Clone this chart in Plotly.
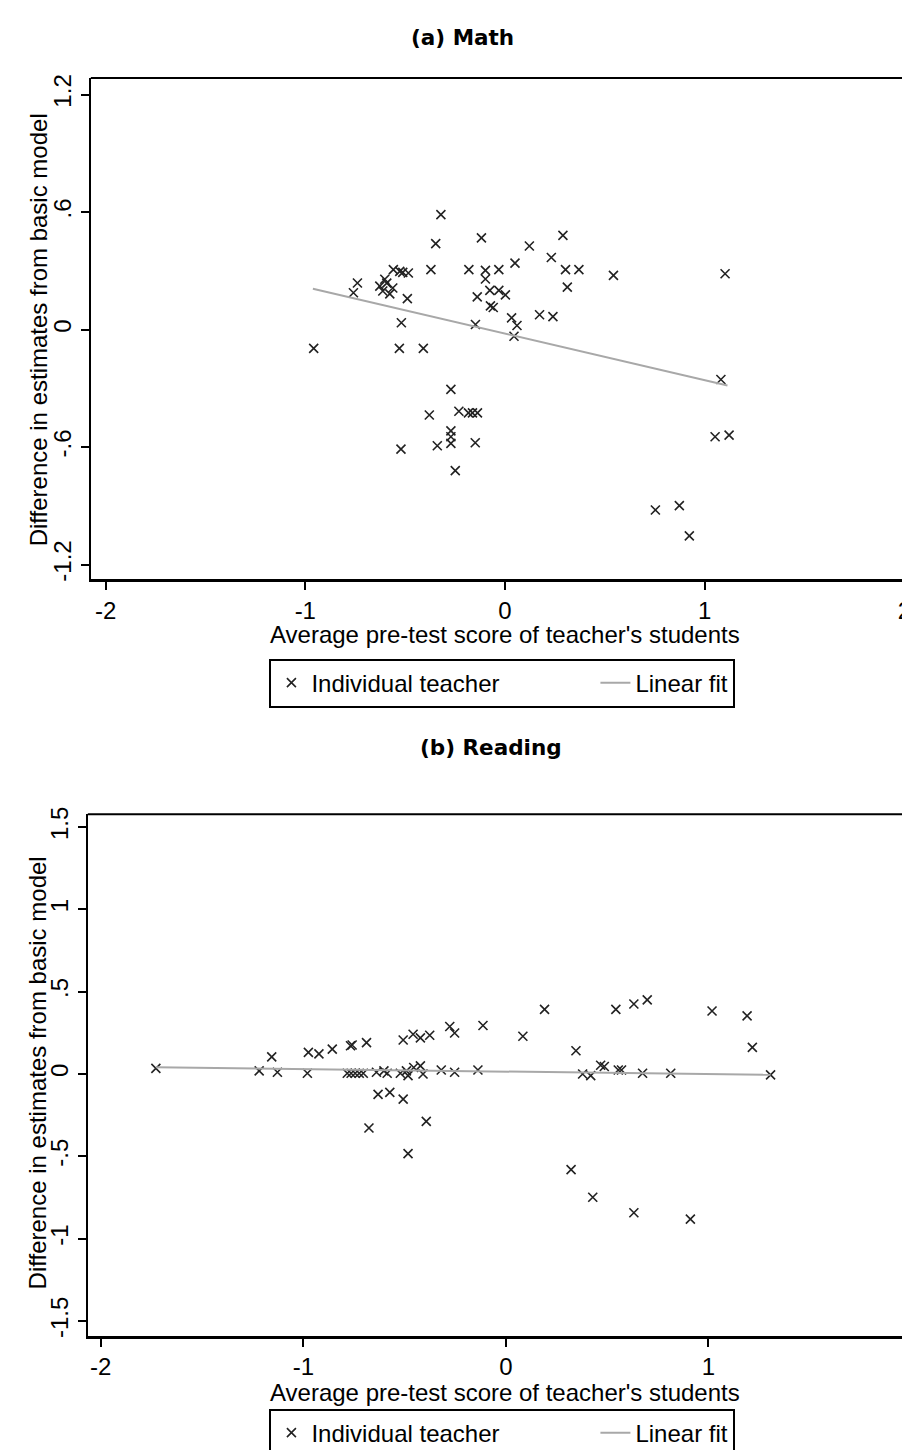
import plotly.graph_objects as go

# ---------------- Data: (a) Math ----------------
math_x = [-0.958, -0.529, -0.409, -0.271, -0.379, -0.231, -0.183, -0.163, -0.138, -0.271,
          -0.271, -0.271, -0.339, -0.521, -0.149, -0.249, 0.543, 1.102, 1.081, 1.052,
          1.122, 0.753, 0.873, 0.923, -0.321, -0.347, -0.118, 0.290, 0.122, 0.232,
          0.050, -0.371, -0.181, -0.098, -0.031, -0.098, 0.303, 0.370, 0.312, -0.076,
          -0.031, 0.002, -0.139, -0.073, -0.059, 0.033, 0.173, 0.240, 0.060, 0.045,
          -0.148, -0.519, -0.489, -0.739, -0.759, -0.559, -0.527, -0.512, -0.484,
          -0.627, -0.612, -0.592, -0.577, -0.602, -0.562]
math_y = [-0.096, -0.096, -0.096, -0.305, -0.436, -0.417, -0.425, -0.425, -0.425, -0.517,
          -0.547, -0.581, -0.593, -0.610, -0.578, -0.720, 0.277, 0.285, -0.255, -0.547,
          -0.539, -0.921, -0.899, -1.053, 0.587, 0.439, 0.468, 0.481, 0.427, 0.368,
          0.339, 0.306, 0.306, 0.302, 0.306, 0.258, 0.306, 0.306, 0.217, 0.200,
          0.200, 0.177, 0.167, 0.121, 0.113, 0.060, 0.076, 0.066, 0.021, -0.034,
          0.026, 0.035, 0.158, 0.238, 0.188, 0.306, 0.297, 0.292, 0.289,
          0.222, 0.197, 0.237, 0.182, 0.257, 0.212]
math_fit_x = [-0.962, 1.114]
math_fit_y = [0.208, -0.285]

# ---------------- Data: (b) Reading ----------------
read_x = [-1.728, -1.218, -1.156, -1.128, -0.980, -0.975, -0.923, -0.857, -0.767, -0.759,
          -0.688, -0.783, -0.764, -0.744, -0.724, -0.704, -0.639, -0.602, -0.586, -0.631,
          -0.573, -0.507, -0.676, -0.393, -0.483, -0.507, -0.458, -0.422, -0.376, -0.277,
          -0.253, -0.113, 0.084, 0.191, 0.346, 0.379, 0.322, -0.521, -0.491, -0.483,
          -0.455, -0.422, -0.409, -0.319, -0.253, -0.138, 0.419, 0.468, 0.486, 0.555,
          0.571, 0.675, 0.814, 0.543, 0.632, 0.698, 1.018, 1.191, 1.217, 1.307,
          0.429, 0.632, 0.911]
read_y = [0.034, 0.019, 0.104, 0.010, 0.004, 0.131, 0.122, 0.151, 0.171, 0.176,
          0.190, 0.004, 0.004, 0.004, 0.004, 0.004, 0.010, 0.019, 0.004, -0.124,
          -0.112, -0.153, -0.328, -0.288, -0.484, 0.206, 0.241, 0.219, 0.235, 0.288,
          0.249, 0.294, 0.229, 0.392, 0.141, 0.000, -0.581, 0.004, 0.019, -0.010,
          0.039, 0.049, 0.000, 0.024, 0.010, 0.024, -0.010, 0.053, 0.045, 0.024,
          0.024, 0.004, 0.004, 0.392, 0.425, 0.450, 0.382, 0.353, 0.161, -0.006,
          -0.749, -0.843, -0.882]
read_fit_x = [-1.728, 1.307]
read_fit_y = [0.040, -0.005]

x_ticks = [-2, -1, 0, 1, 2]
x_ticktext = ["-2", "-1", "0", "1", "2"]
math_yticks = [-1.2, -0.6, 0, 0.6, 1.2]
math_yticktext = ["-1.2", "-.6", "0", ".6", "1.2"]
read_yticks = [-1.5, -1, -0.5, 0, 0.5, 1, 1.5]
read_yticktext = ["-1.5", "-1", "-.5", "0", ".5", "1", "1.5"]

panel_titles = ["(a) Math", "(b) Reading"]
x_title = "Average pre-test score of teacher's students"
y_title = "Difference in estimates from basic model"
series_names = ["Individual teacher", "Linear fit"]

# ---------------- Figure ----------------
W, H = 910, 1450
FONT = "Liberation Sans, Arial, sans-serif"
FS = 24
MARK = dict(symbol="x-thin", size=9, color="#222222", line=dict(width=1.6, color="#222222"))
FITLINE = dict(color="#a8a8a8", width=2)
LEG_W1 = 279

fig = go.Figure()
fig.add_trace(go.Scatter(x=math_x, y=math_y, mode="markers", marker=MARK,
                         name=series_names[0], xaxis="x", yaxis="y", legend="legend",
                         legendwidth=LEG_W1))
fig.add_trace(go.Scatter(x=math_fit_x, y=math_fit_y, mode="lines", line=FITLINE,
                         name=series_names[1], xaxis="x", yaxis="y", legend="legend"))
fig.add_trace(go.Scatter(x=read_x, y=read_y, mode="markers", marker=MARK,
                         name=series_names[0], xaxis="x2", yaxis="y2", legend="legend2",
                         legendwidth=LEG_W1))
fig.add_trace(go.Scatter(x=read_fit_x, y=read_fit_y, mode="lines", line=FITLINE,
                         name=series_names[1], xaxis="x2", yaxis="y2", legend="legend2"))


def px_x(p):
    return p / W


def px_y(p):
    return 1 - p / H


xcommon = dict(tickvals=x_ticks, ticktext=x_ticktext, showline=True, linewidth=3,
               linecolor="black", ticks="outside", ticklen=8, tickwidth=2, tickcolor="black",
               showgrid=False, zeroline=False, tickfont=dict(family=FONT, size=FS, color="black"),
               ticklabeloverflow="allow", fixedrange=True)
ycommon = dict(showline=True, linewidth=2, linecolor="black", ticks="outside", ticklen=8,
               tickwidth=2, tickcolor="black", showgrid=False, zeroline=False, tickangle=-90,
               tickfont=dict(family=FONT, size=FS, color="black"), fixedrange=True)

legcommon = dict(orientation="h", xanchor="left", yanchor="top", bordercolor="black",
                 borderwidth=2, bgcolor="white", font=dict(family=FONT, size=FS, color="black"),
                 itemclick=False, itemdoubleclick=False)

fig.update_layout(
    width=W, height=H, margin=dict(l=0, r=0, t=0, b=0),
    paper_bgcolor="white", plot_bgcolor="white",
    xaxis=dict(domain=[px_x(83), 1], range=[-2.074, 2.058], anchor="y", **xcommon),
    yaxis=dict(domain=[px_y(571), px_y(63)], range=[-1.272, 1.284], anchor="x",
               tickvals=math_yticks, ticktext=math_yticktext, **ycommon),
    xaxis2=dict(domain=[px_x(80), 1], range=[-2.064, 2.025], anchor="y2", **xcommon),
    yaxis2=dict(domain=[px_y(1339), px_y(810)], range=[-1.589, 1.577], anchor="x2",
                tickvals=read_yticks, ticktext=read_yticktext, **ycommon),
    legend=dict(x=px_x(262), y=px_y(652), **legcommon),
    legend2=dict(x=px_x(262), y=px_y(1413), **legcommon),
    showlegend=True,
)

# top frame lines of each plot region
for xr, yr in (("x domain", "y domain"), ("x2 domain", "y2 domain")):
    fig.add_shape(type="line", xref=xr, yref=yr, x0=0, x1=1, y0=1, y1=1,
                  line=dict(color="black", width=2))

ann = []
TFONT = dict(family="DejaVu Sans, Verdana, sans-serif", size=21.5, color="black")
ann.append(dict(text="<b>" + panel_titles[0] + "</b>", x=px_x(456), y=px_y(22), font=TFONT))
ann.append(dict(text="<b>" + panel_titles[1] + "</b>", x=px_x(484), y=px_y(742), font=TFONT))
AF = dict(family=FONT, size=24, color="black")
ann.append(dict(text=x_title, x=px_x(498), y=px_y(628), font=AF))
ann.append(dict(text=x_title, x=px_x(498), y=px_y(1397), font=AF))
ann.append(dict(text=y_title, x=px_x(30), y=px_y(318), font=AF, textangle=-90))
ann.append(dict(text=y_title, x=px_x(30), y=px_y(1072), font=AF, textangle=-90))
for a in ann:
    a.update(xref="paper", yref="paper", showarrow=False, xanchor="center", yanchor="middle")
fig.update_layout(annotations=ann)

fig.write_html("out.html", config={"displayModeBar": False})
